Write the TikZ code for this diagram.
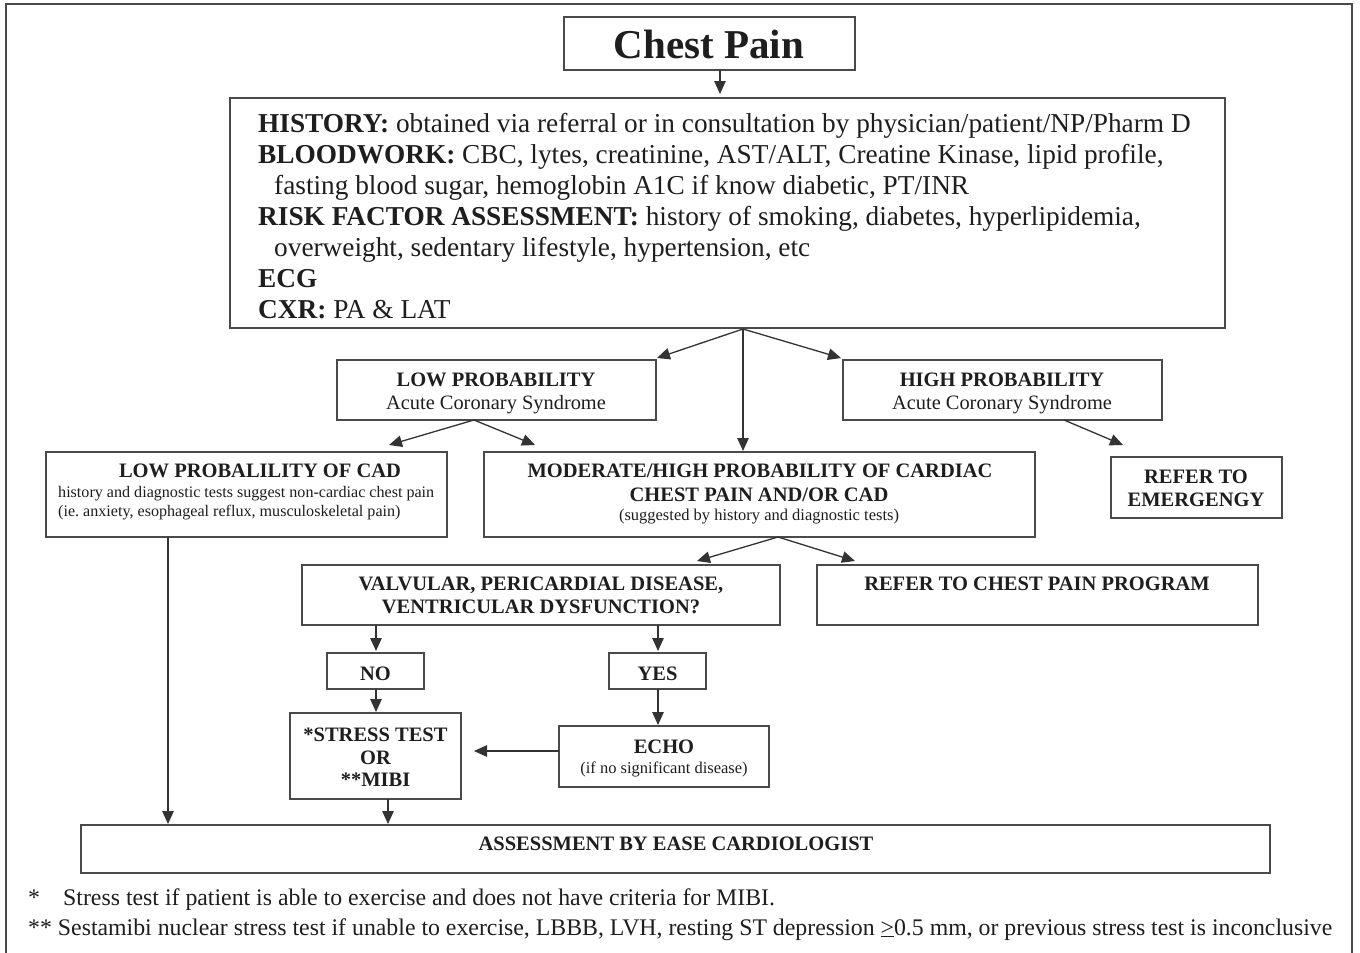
\documentclass[tikz,border=0pt]{standalone}
\usepackage{fontspec}
\setmainfont{Liberation Serif}
\usetikzlibrary{arrows.meta}
\definecolor{ink}{HTML}{1E1E1E}
\definecolor{edge}{HTML}{4A4A4A}
\definecolor{wire}{HTML}{333333}
\newcommand\fsz[1]{\fontsize{#1}{#1}\selectfont}
\frenchspacing
\begin{document}
\begin{tikzpicture}[x=1pt,y=-1pt,
  box/.style={draw=edge, line width=1.6pt, inner sep=0pt, outer sep=0pt},
  lbl/.style={inner sep=0pt, text=ink, anchor=base},
  lblw/.style={inner sep=0pt, text=ink, anchor=base west},
  big/.style={font=\fsz{27.3}},
  head/.style={font=\fsz{20.5}\bfseries},
  body/.style={font=\fsz{20.4}},
  small/.style={font=\fsz{16.5}},
  smaller/.style={font=\fsz{16.1}},
  note/.style={font=\fsz{23.8}},
  arr/.style={draw=wire, line width=1.3pt, -{Triangle[length=13pt,width=11.5pt]}}]
\useasboundingbox (0,0) rectangle (1360,953);
\fill[white] (0,0) rectangle (1360,953);
% page frame, open at the bottom
\draw[edge, line width=1.5pt] (6,953) -- (6,4) -- (1352,4) -- (1352,953);

% ---- boxes ----
\node[box, minimum width=291pt, minimum height=53pt] (chest) at (709.5,43.5) {};
\node[box, minimum width=995pt, minimum height=230pt] (main) at (727.5,213) {};
\node[box, minimum width=319pt, minimum height=60pt] (lowp) at (496.5,390) {};
\node[box, minimum width=319pt, minimum height=60pt] (highp) at (1002.5,390) {};
\node[box, minimum width=401pt, minimum height=85pt] (lowcad) at (246.5,494.5) {};
\node[box, minimum width=551pt, minimum height=85pt] (mod) at (759.5,494.5) {};
\node[box, minimum width=171pt, minimum height=61pt] (emerg) at (1196.5,487.5) {};
\node[box, minimum width=478pt, minimum height=60pt] (valv) at (541,595) {};
\node[box, minimum width=441pt, minimum height=60pt] (cpp) at (1037.5,595) {};
\node[box, minimum width=97pt, minimum height=36pt] (no) at (375.5,671) {};
\node[box, minimum width=97pt, minimum height=36pt] (yes) at (657.5,671) {};
\node[box, minimum width=171pt, minimum height=86pt] (stress) at (375.5,756) {};
\node[box, minimum width=210pt, minimum height=61pt] (echo) at (664,756.5) {};
\node[box, minimum width=1189pt, minimum height=48pt] (assess) at (675.5,849) {};

% ---- texts ----
\node[lbl, font=\fsz{41}\bfseries] (tChest) at (709,58) {Chest Pain};

\node[lblw, big] (m1) at (258,132) {\textbf{HISTORY:} obtained via referral or in consultation by physician/patient/NP/Pharm D};
\node[lblw, big] (m2) at (258,163) {\textbf{BLOODWORK:} CBC, lytes, creatinine, AST/ALT, Creatine Kinase, lipid profile,};
\node[lblw, big] (m3) at (274,194) {fasting blood sugar, hemoglobin A1C if know diabetic, PT/INR};
\node[lblw, big] (m4) at (258,225) {\textbf{RISK FACTOR ASSESSMENT:} history of smoking, diabetes, hyperlipidemia,};
\node[lblw, big] (m5) at (274,256) {overweight, sedentary lifestyle, hypertension, etc};
\node[lblw, big] (m6) at (258,287) {\textbf{ECG}};
\node[lblw, big] (m7) at (258,318) {\textbf{CXR:} PA \& LAT};

\node[lbl, head] (tLowA) at (496,386) {LOW PROBABILITY};
\node[lbl, body] (tLowB) at (496,409) {Acute Coronary Syndrome};
\node[lbl, head] (tHighA) at (1002,386) {HIGH PROBABILITY};
\node[lbl, body] (tHighB) at (1002,409) {Acute Coronary Syndrome};

\node[lbl, head] (tCadA) at (260,477) {LOW PROBALILITY OF CAD};
\node[lblw, smaller] (tCadB) at (58,497) {history and diagnostic tests suggest non-cardiac chest pain};
\node[lblw, smaller] (tCadC) at (58,516) {(ie. anxiety, esophageal reflux, musculoskeletal pain)};

\node[lbl, head] (tModA) at (760,477) {MODERATE/HIGH PROBABILITY OF CARDIAC};
\node[lbl, head] (tModB) at (759,501) {CHEST PAIN AND/OR CAD};
\node[lbl, small] (tModC) at (759,520) {(suggested by history and diagnostic tests)};

\node[lbl, head] (tEmA) at (1196,483) {REFER TO};
\node[lbl, head] (tEmB) at (1196,506) {EMERGENGY};

\node[lbl, head] (tValA) at (541,590) {VALVULAR, PERICARDIAL DISEASE,};
\node[lbl, head] (tValB) at (541,613) {VENTRICULAR DYSFUNCTION?};
\node[lbl, head] (tCpp) at (1037,590) {REFER TO CHEST PAIN PROGRAM};

\node[lbl, head] (tNo) at (375.5,680) {NO};
\node[lbl, head] (tYes) at (657.5,680) {YES};

\node[lbl, head] (tStA) at (375.5,741) {*STRESS TEST};
\node[lbl, head] (tStB) at (375.5,764) {OR};
\node[lbl, head] (tStC) at (375.5,786) {**MIBI};

\node[lbl, head] (tEchoA) at (664,753) {ECHO};
\node[lbl, small] (tEchoB) at (664,773) {(if no significant disease)};

\node[lbl, head] (tAss) at (676,850) {ASSESSMENT BY EASE CARDIOLOGIST};

\node[lblw, note] (f1a) at (28,905) {*};
\node[lblw, note] (f1b) at (63,905) {Stress test if patient is able to exercise and does not have criteria for MIBI.};
\node[lblw, note] (f2) at (28,935) {** Sestamibi nuclear stress test if unable to exercise, LBBB, LVH, resting ST depression \underline{>}0.5 mm, or previous stress test is inconclusive};

% ---- connector end points ----
\coordinate (cA) at (720,70);
\coordinate (kA) at (743,329);
\coordinate (kB) at (474,420);
\coordinate (eB1) at (389,445);
\coordinate (eB2) at (535,445);
\coordinate (kC) at (1064,420);
\coordinate (eC) at (1123,445);
\coordinate (kD) at (778,537);
\coordinate (eD1) at (697,561);
\coordinate (eD2) at (855,561);
\coordinate (xNo) at (376,625);
\coordinate (xYes) at (658,625);
\coordinate (xSt) at (388,799);
\coordinate (xCad) at (168,537);
\coordinate (eE) at (474,751);

% ---- connectors ----
\draw[arr, shorten >=4pt] (cA) -- (cA |- main.north);
\draw[arr] (kA) -- ([shift={(1,-2)}]lowp.north east);
\draw[arr, shorten >=1pt] (kA) -- (kA |- mod.north);
\draw[arr] (kA) -- ([shift={(-2,-2)}]highp.north west);
\draw[arr] (kB) -- (eB1);
\draw[arr] (kB) -- (eB2);
\draw[arr] (kC) -- (eC);
\draw[arr] (kD) -- (eD1);
\draw[arr] (kD) -- (eD2);
\draw[arr, shorten >=2pt] (xNo) -- (xNo |- no.north);
\draw[arr, shorten >=2pt] (xYes) -- (xYes |- yes.north);
\draw[arr, shorten >=1pt] (no.south -| xNo) -- (xNo |- stress.north);
\draw[arr, shorten >=1pt] (yes.south -| xYes) -- (xYes |- echo.north);
\draw[arr] (echo.west |- eE) -- (eE);
\draw[arr, shorten >=1pt] (stress.south -| xSt) -- (xSt |- assess.north);
\draw[arr, shorten >=1pt] (lowcad.south -| xCad) -- (xCad |- assess.north);
\end{tikzpicture}
\end{document}
